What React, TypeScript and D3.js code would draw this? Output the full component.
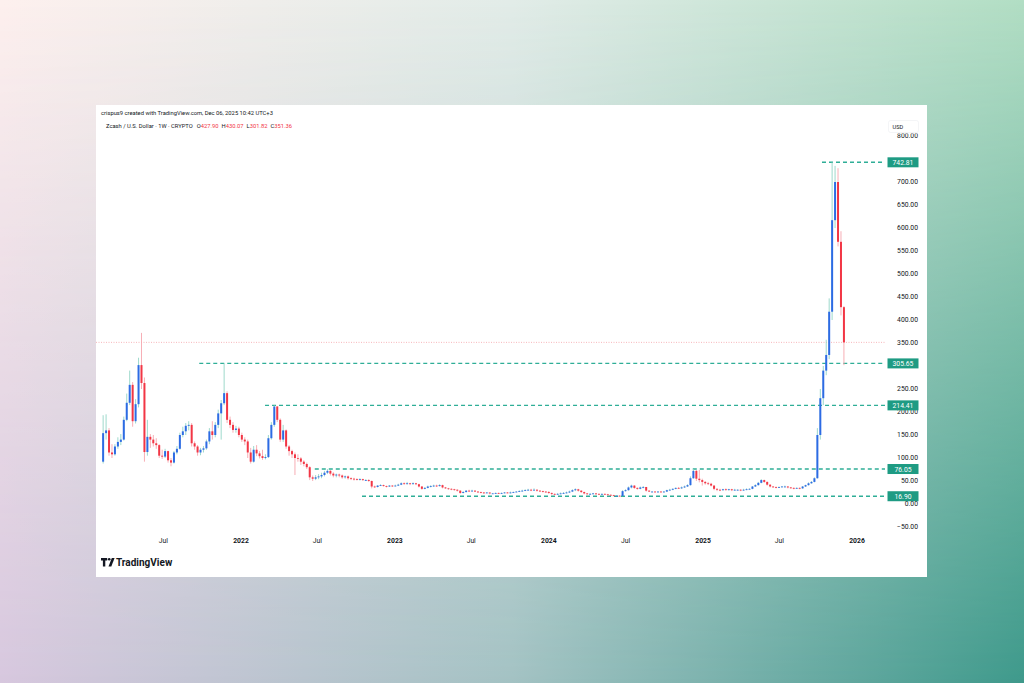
import React from 'react';
import * as d3 from 'd3';

// ---- data (weekly candles, first week starting 2021-02-08; open = previous close) ----
const START_WEEK = '2021-02-08';
const FIRST_OPEN = 92;

const close2021 = [154,160,112,108,125,135,140,183,220,259,180,217,302,263,113,146,140,132,128,105,103,115,95,90,112,120,150,158,170,172,132,125,112,118,121,136,158,150,172,197,219,241,183,172,161,164,150];
const high2021 = [193,195,165,130,130,145,152,190,240,290,265,228,318,372,275,183,152,150,143,130,118,120,116,100,115,126,155,168,176,180,176,136,128,122,126,140,165,180,178,205,226,305.65,245,190,178,170,168];
const low2021 = [88,140,105,100,105,120,128,138,180,215,168,175,210,250,92,105,122,125,120,100,98,100,90,82,88,108,118,145,150,160,125,118,105,106,112,118,130,140,145,165,140,215,176,165,155,155,145];

const close2022 = [140,136,112,92,118,110,104,100,102,143,172,212,183,140,160,125,115,108,100,99,92,87,80,58,55,58,60,63,68,72,66,62,64,62,58,60,56,55,54,53,54,52,52,50,38,37,40,41,39,38,40,39];
const high2022 = [155,145,140,122,126,128,115,118,108,150,178,214.41,213,186,172,162,128,118,112,108,102,95,90,82,62,63,65,68,72,76.05,74,69,66,66,64,62,62,58,57,56,56,55,54,54,51,40,41,43,42,40,41,41];
const low2022 = [135,128,100,88,90,104,99,96,97,100,140,168,178,135,135,120,105,100,63,92,85,82,76,52,50,52,54,56,60,65,62,58,58,58,55,55,53,52,51,51,51,50,50,48,34,35,36,39,38,36,37,37];

const close2023 = [40,42,45,44,45,44,45,43,38,33,35,38,39,40,39,41,36,34,33,32,31,29,24,26,29,28,29,27,26,25,24,25,23,23,24,23,24,25,24,25,26,27,28,29,30,31,30,31,29,28,27,26];
const high2023 = [42,44,47,47,48,46,47,46,44,39,37,40,41,42,42,43,42,37,35,34,33,32,30,28,30,31,31,30,28,27,26,26,25,24,25,25,25,26,26,27,27,28,30,31,32,33,33,34,32,30,29,28];
const low2023 = [38,39,41,42,42,41,42,41,36,31,32,34,36,37,37,38,34,33,31,30,29,27,22,23,25,26,27,26,24,23,22,23,21,22,22,22,22,23,23,23,24,25,26,27,28,29,28,29,27,26,25,24];

const close2024 = [24,22,21,22,23,24,25,27,30,32,29,26,23,22,22,23,22,21,22,21,20,19,18,18,17.5,28,30,36,40,35,33,36,37,29,27,27,26,27,26,27,30,31,33,35,34,36,38,41,56,72,55,52,48];
const high2024 = [28,25,23,24,25,26,27,29,32,34,33,30,27,24,24,24,24,23,23,23,22,21,20,19,19,30,32,38,42,41,36,38,39,37,30,28,28,28,28,28,31,33,34,36,37,38,40,43,60,76.05,74,74,55];
const low2024 = [22,19,19,20,21,22,23,24,26,28,27,24,21,20,21,21,20,20,20,20,19,18,17,16.9,16.9,17,27,29,34,33,31,32,34,27,26,25,25,25,25,25,26,29,30,32,33,33,35,37,40,55,50,47,40];

const close2025 = [45,44,40,33,31,30,32,31,32,30,31,31,30,31,32,33,38,41,46,52,48,42,38,37,36,37,38,38,36,35,34,35,34,38,41,45,48,56,150,230,290,324,418,617,700,570,427.90,351.36];
const high2025 = [50,48,46,41,34,33,33,34,33,33,33,32,32,33,34,34,39,43,48,54,53,49,43,39,38,38,39,40,39,37,36,36,36,39,42,47,50,58,165,250,300,357,447,742.81,735,730,593,430.07];
const low2025 = [42,41,38,30,28,28,29,29,29,28,29,29,28,29,30,31,32,37,40,45,46,40,36,35,34,35,36,36,34,33,32,33,32,33,37,40,44,47,55,140,215,280,315,400,600,560,410,301.82];

const priceTicks = [-50,0,50,100,150,200,250,300,350,400,450,500,550,600,650,700,750,800];
const timeTicks = [
  { date: '2021-07-01', label: 'Jul', year: false },
  { date: '2022-01-01', label: '2022', year: true },
  { date: '2022-07-01', label: 'Jul', year: false },
  { date: '2023-01-01', label: '2023', year: true },
  { date: '2023-07-01', label: 'Jul', year: false },
  { date: '2024-01-01', label: '2024', year: true },
  { date: '2024-07-01', label: 'Jul', year: false },
  { date: '2025-01-01', label: '2025', year: true },
  { date: '2025-07-01', label: 'Jul', year: false },
  { date: '2026-01-01', label: '2026', year: true },
];
const levelValues = [742.81, 305.65, 214.41, 76.05, 16.90];
const levelStarts = ['2025-10-10', '2021-09-24', '2022-02-27', '2022-06-25', '2022-10-15'];
const LAST_PRICE = 351.36;

const HEADER = 'crispus9 created with TradingView.com, Dec 06, 2025 10:42 UTC+3';
const SYMBOL = 'Zcash / U.S. Dollar · 1W · CRYPTO';

const UP = '#2d6be4';
const DOWN = '#f23645';
const UP_WICK = '#93d5c6';
const DOWN_WICK = '#f6a5ad';
const LEVEL = '#2fae97';
const LABEL_BG = '#1e9b83';
const TEXT = '#131722';
const FONT = 'Roboto, "Open Sans", sans-serif';

const parse = (s: string) => new Date(s + 'T00:00:00Z');

export default function App() {
  const W = 1024, H = 683;
  const plotL = 96, plotR = 885, plotT = 119, plotB = 551;

  const x = d3.scaleUtc().domain([parse('2022-01-01'), parse('2026-01-01')]).range([241, 857]);
  const y = d3.scaleLinear().domain([0, 700]).range([504, 182]);

  const closes = [...close2021, ...close2022, ...close2023, ...close2024, ...close2025];
  const highs = [...high2021, ...high2022, ...high2023, ...high2024, ...high2025];
  const lows = [...low2021, ...low2022, ...low2023, ...low2024, ...low2025];
  const start = parse(START_WEEK);
  const candles = closes.map((c, i) => ({
    date: d3.utcDay.offset(start, 7 * i),
    open: i === 0 ? FIRST_OPEN : closes[i - 1],
    close: c,
    high: highs[i],
    low: lows[i],
  }));
  const last = candles[candles.length - 1];
  const f2 = d3.format('.2f');

  // axis labels hidden behind the highlighted level labels (as in TradingView)
  const visibleTicks = priceTicks.filter((t) => levelValues.every((v) => Math.abs(y(t) - y(v)) > 4.5));

  const bw = 2;

  return (
    <svg width={W} height={H} style={{ position: 'absolute', left: 0, top: 0 }} xmlns="http://www.w3.org/2000/svg">
      <defs>
        <linearGradient id="topRow" x1="0" y1="0" x2="1" y2="0">
          <stop offset="0" stopColor="#fdf0ee" />
          <stop offset="0.5" stopColor="#e2ece8" />
          <stop offset="1" stopColor="#b2dec4" />
        </linearGradient>
        <linearGradient id="botRow" x1="0" y1="0" x2="1" y2="0">
          <stop offset="0" stopColor="#d7c7de" />
          <stop offset="0.5" stopColor="#a3c2c3" />
          <stop offset="1" stopColor="#3e998b" />
        </linearGradient>
        <linearGradient id="vfade" x1="0" y1="0" x2="0" y2="1">
          <stop offset="0" stopColor="#fff" stopOpacity="0" />
          <stop offset="1" stopColor="#fff" stopOpacity="1" />
        </linearGradient>
        <mask id="vmask">
          <rect x={0} y={0} width={W} height={H} fill="url(#vfade)" />
        </mask>
        <clipPath id="plotClip">
          <rect x={plotL} y={plotT} width={plotR - plotL} height={plotB - plotT} />
        </clipPath>
      </defs>

      {/* background */}
      <rect x={0} y={0} width={W} height={H} fill="url(#topRow)" />
      <rect x={0} y={0} width={W} height={H} fill="url(#botRow)" mask="url(#vmask)" />

      {/* card */}
      <rect x={96} y={105} width={831} height={472} fill="#ffffff" />

      {/* header */}
      <text x={101} y={114.5} fontSize={5.8} fontFamily={FONT} fill={TEXT}>{HEADER}</text>
      <text x={106} y={128.2} fontSize={5.8} fontFamily={FONT} fill={TEXT}>
        <tspan>{SYMBOL}</tspan>
        <tspan dx={4}>O</tspan><tspan fill={DOWN}>{f2(last.open)}</tspan>
        <tspan dx={3}>H</tspan><tspan fill={DOWN}>{f2(last.high)}</tspan>
        <tspan dx={3}>L</tspan><tspan fill={DOWN}>{f2(last.low)}</tspan>
        <tspan dx={3}>C</tspan><tspan fill={DOWN}>{f2(last.close)}</tspan>
      </text>

      {/* plot */}
      <g clipPath="url(#plotClip)">
        <line x1={plotL} x2={plotR} y1={y(LAST_PRICE)} y2={y(LAST_PRICE)} stroke="#f5a3aa" strokeWidth={0.8} strokeDasharray="1 1.5" />
        {levelValues.map((v, k) => (
          <line key={'lv' + k} x1={x(parse(levelStarts[k]))} x2={plotR + 4} y1={y(v)} y2={y(v)} stroke={LEVEL} strokeWidth={1.4} strokeDasharray="4 3" />
        ))}
        {candles.map((c, i) => {
          const up = c.close >= c.open;
          const cx = x(c.date);
          const top = y(Math.max(c.open, c.close));
          const bot = y(Math.min(c.open, c.close));
          return (
            <g key={i}>
              <line x1={cx} x2={cx} y1={y(c.high)} y2={y(c.low)} stroke={up ? UP_WICK : DOWN_WICK} strokeWidth={0.9} />
              <rect x={cx - bw / 2} y={top} width={bw} height={Math.max(0.8, bot - top)} fill={up ? UP : DOWN} />
            </g>
          );
        })}
      </g>

      {/* price axis */}
      {visibleTicks.map((t) => (
        <text key={'pt' + t} x={918} y={y(t) + 2.4} textAnchor="end" fontSize={6.8} fontFamily={FONT} fill={TEXT}>{f2(t)}</text>
      ))}
      <rect x={886} y={118} width={34} height={15.5} fill="#ffffff" />
      <rect x={888.5} y={120.5} width={30} height={12} rx={2} fill="#ffffff" stroke="#eceef2" strokeWidth={0.6} />
      <text x={892.5} y={128.6} fontSize={5.6} fontFamily={FONT} fill={TEXT}>USD</text>

      {levelValues.map((v, k) => (
        <g key={'lb' + k}>
          <rect x={887.5} y={y(v) - 5} width={31} height={10} fill={LABEL_BG} />
          <text x={903} y={y(v) + 2.5} textAnchor="middle" fontSize={6.8} fontFamily={FONT} fill="#ffffff">{f2(v)}</text>
        </g>
      ))}

      {/* time axis */}
      {timeTicks.map((t) => (
        <text key={t.date} x={x(parse(t.date))} y={543} textAnchor="middle" fontSize={6.8} fontWeight={t.year ? 700 : 400} fontFamily={FONT} fill={TEXT}>{t.label}</text>
      ))}

      {/* logo */}
      <g fill={TEXT}>
        <path d="M101 558 h6.2 v2.6 h-1.9 v5.8 h-2.4 v-5.8 h-1.9 z" />
        <circle cx={109.2} cy={559.3} r={1.3} />
        <path d="M111.8 558 h2.8 l-3.3 8.4 h-2.8 z" />
        <text x={116} y={566.3} fontSize={10} fontWeight={700} fontFamily={FONT}>TradingView</text>
      </g>
    </svg>
  );
}
